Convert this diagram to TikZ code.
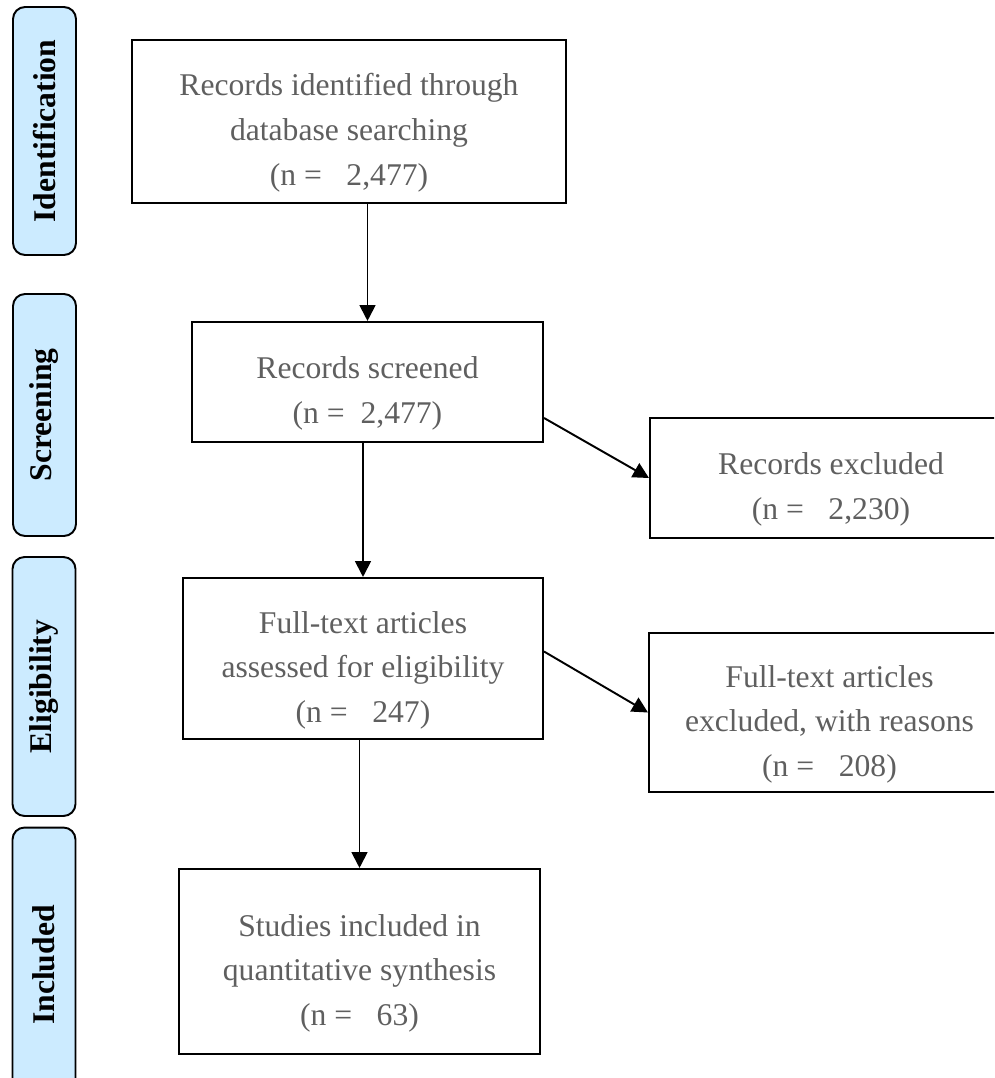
\documentclass[tikz,border=0pt]{standalone}
\usepackage{fontspec}
\setmainfont{Liberation Serif}
\usetikzlibrary{arrows.meta,calc}
\definecolor{phaseblue}{RGB}{204,235,255}
\definecolor{txtgray}{RGB}{95,95,95}
\newcommand{\tstrut}{\rule{0pt}{26pt}}

\begin{document}
\begin{tikzpicture}[x=0.02cm,y=-0.02cm,
  font=\fontsize{18}{25.6}\selectfont,
  bx/.style={draw,line width=1.2pt,align=center,text=txtgray},
  phase/.style={draw,line width=1.1pt,rounded corners=0.24cm,fill=phaseblue,
    font=\fontsize{18}{22}\selectfont\bfseries,rotate=90,minimum height=1.26cm},
  arr/.style={line width=1.1pt,-{Triangle[width=9pt,length=9pt]}}]

\useasboundingbox (0,0) rectangle (994,1078);
\clip (0,0) rectangle (994,1078);

% phases on the left
\node[phase,minimum width=4.96cm] (pid) at (44.5,131) {Identification};
\node[phase,minimum width=4.84cm] (pscr) at (44.5,415) {Screening};
\node[phase,minimum width=5.18cm] (pel) at (44,686.5) {Eligibility};
\node[phase,minimum width=5.5cm] (pinc) at (44,965) {Included};

% Identification
\node[bx,minimum width=8.68cm,minimum height=3.26cm] (ident) at (349,121.5)
  {\tstrut Records identified through\\ database searching\\ (n =\hspace{14pt}2,477)};

% Screening
\node[bx,minimum width=7.02cm,minimum height=2.4cm] (scr) at (367.5,382)
  {\tstrut Records screened\\ (n =\hspace{9pt}2,477)};
\node[bx,minimum width=7.24cm,minimum height=2.4cm] (excl) at (831,478)
  {\tstrut Records excluded\\ (n =\hspace{14pt}2,230)};

% Eligibility
\node[bx,minimum width=7.2cm,minimum height=3.22cm] (elig) at (363,658.5)
  {\tstrut Full-text articles\\ assessed for eligibility\\ (n =\hspace{14pt}247)};
\node[bx,minimum width=7.22cm,minimum height=3.18cm] (ftex) at (829.5,712.5)
  {\tstrut Full-text articles\\ excluded, with reasons\\ (n =\hspace{14pt}208)};

% Included
\node[bx,minimum width=7.22cm,minimum height=3.7cm] (incl) at (359.5,961.5)
  {\tstrut Studies included in\\ quantitative synthesis\\ (n =\hspace{14pt}63)};

% arrows
\draw[arr] (ident.south -| scr.north) -- (scr.north);
\draw[arr] (scr.south -| elig.north) -- (elig.north);
\draw[arr] (elig.south -| incl.north) -- (incl.north);
\draw[arr] ($(scr.east)+(0,36)$) -- (excl.west);
\draw[arr] ($(elig.east)+(0,-7)$) -- (ftex.west);
\end{tikzpicture}
\end{document}
